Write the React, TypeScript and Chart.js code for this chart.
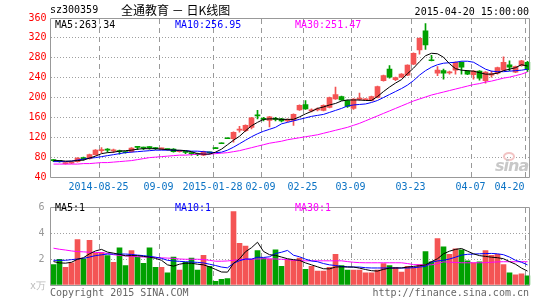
import React, { useEffect, useRef } from 'react';
import { Chart, registerables } from 'chart.js';

Chart.register(...registerables);

// ---------- data ----------
const dates: string[] = [
  '2014-08-13','2014-08-14','2014-08-15','2014-08-18','2014-08-19','2014-08-20','2014-08-21','2014-08-22',
  '2014-08-25','2014-08-26','2014-08-27','2014-08-28','2014-08-29','2014-09-01','2014-09-02','2014-09-03',
  '2014-09-04','2014-09-05','2014-09-09','2014-09-10','2014-09-11','2014-09-12','2014-09-15','2014-09-16',
  '2014-09-17','2014-09-18','2014-09-19','2015-01-28','2015-01-29','2015-01-30','2015-02-02','2015-02-03',
  '2015-02-04','2015-02-05','2015-02-06','2015-02-09','2015-02-10','2015-02-11','2015-02-12','2015-02-13',
  '2015-02-16','2015-02-17','2015-02-25','2015-02-26','2015-02-27','2015-03-02','2015-03-03','2015-03-04',
  '2015-03-05','2015-03-06','2015-03-09','2015-03-10','2015-03-11','2015-03-12','2015-03-13','2015-03-16',
  '2015-03-17','2015-03-18','2015-03-19','2015-03-20','2015-03-23','2015-03-24','2015-03-25','2015-03-26',
  '2015-03-27','2015-03-30','2015-03-31','2015-04-01','2015-04-02','2015-04-03','2015-04-07','2015-04-08',
  '2015-04-09','2015-04-10','2015-04-13','2015-04-14','2015-04-15','2015-04-16','2015-04-17','2015-04-20',
];

const tickDates: string[] = ['2014-08-25','2014-09-09','2015-01-28','2015-02-09','2015-02-25','2015-03-09','2015-03-23','2015-04-07','2015-04-20'];
const tickTexts: string[] = ['2014-08-25','09-09','2015-01-28','02-09','02-25','03-09','03-23','04-07','04-20'];

const open: number[] = [
  73.5,72,67,68,71,77.5,77,85,93,95, 92.5,92,90,91,100,98.5,99.5,98,96.5,95.5,
  96,91,90.5,88,87,84,89.5,97.2,107.2,117.2, 117,134,133,140,165,157.5,154,157.5,157,153,
  154,175,186,173,175,174,180,197,202,194, 178,196,195.5,194,200,234,257,236,241,245,
  267,296,334,274.5,249,254,249.5,255,271,253, 246,253,234,245,249,255,266,251,264,271,
];
const high: number[] = [
  75,73,69,71,79,80,86,95,99,97, 96,94,91,99,100.5,100,101,99,98,96,
  97,93,92,90,88,92,90,97.2,107.2,117.2, 131,142,145,160,174,160,162,160,158,157,
  167,185,194,177,179,185,201,221,203,195, 198,209,198,203,223,245,264,241,248,266,
  290,320,349,285,262,257,253,272,272,254, 254,254,252,253,261,282,274,263,275,273,
];
const low: number[] = [
  71,70,66,67,70,74,76,84,89,90, 89,86,88,90,95,95,96,95,95.5,94,
  90,90,87,84,83,83,87,97,107,117, 110,130,131,137,157,153,141,153,151,151,
  144,174,176,171,173,173,179,196,194,180, 176,194,195,193,199,233,239,234,240,244,
  266,287,297,273.5,244,237,247,247,247,246, 237,235,229,241,247,254,254,250,263,252,
];
const close: number[] = [
  73,71.5,68,70,78,77,85,94,95,94, 93.5,91,89,98,99.5,98,99,97,97,95,
  91,92,89.5,87,85,91,88.5,97,107,117, 130,136.5,144,159,163,156,161,156,153,156,
  166,184,177,175,177,184,200,206,195,182, 197,199,197,202,222,244,241,240,247,265,
  289,319,306,274,255,249,251.5,271,261,247, 253,239,251,248,260,271,261,262,274,256,
];

const ma5: number[] = [
  73,73,72,72,73,74,78,82,87,89, 90,92,93,94,96,97,97,97,96,95,
  94,94,93,91,87,86,86,90,96,105, 114,122,133,143,150,156,157,157,156,156,
  156,161,167,172,178,181,185,188,193,195, 195,195,194,194,202,212,221,229,236,248,
  259,272,284,289,288,281,268,258,255,254, 253,250,247,247,249,254,257,260,266,263.34,
];
const ma10: number[] = [
  71,71,71,72,74,76,78,79,81,83, 85,87,89,90,91,92,93,94,94,94,
  94,93,93,92,92,91,90,89,90,94, 100,107,114,121,127,132,136,140,147,150,
  153,156,159,162,164,166,170,174,178,183, 185,186,187,190,194,200,206,212,218,225,
  234,245,254,261,266,269,270,271,273,273, 271,264,257,253,252,252,253,254,255,256.95,
];
const ma30: number[] = [
  66,66,66,66,66,67,67,68,69,69, 70,71,72,73,75,77,79,80,81,82,
  83,84,84,85,86,86,86,87,88,89, 91,93,96,99,102,105,108,110,112,115,
  117,119,121,123,125,128,131,134,137,140, 144,148,153,158,163,168,173,178,183,188,
  193,197,201,205,208,211,214,217,220,223, 226,228,231,233,236,239,241,244,247,251.47,
];

const volume: number[] = [
  1.57,1.98,1.36,1.71,3.5,2.02,3.43,2.43,2.5,2.26, 1.74,2.86,1.5,2.64,2.14,1.67,2.86,1.36,1.36,0.93,
  2.14,1.14,1.74,2.07,1.14,2.29,1.43,0.29,0.43,0.5, 5.64,3.21,3.0,1.98,2.64,2.07,1.98,2.71,1.43,1.95,
  1.9,2.07,1.21,1.43,1.07,1.07,1.36,2.36,1.5,1.14, 1.14,1.14,0.93,0.93,1.14,1.64,1.5,1.36,1.0,1.43,
  1.36,1.57,2.57,1.79,3.57,2.93,2.36,2.79,2.71,1.86, 1.71,1.79,2.64,2.29,2.36,1.57,0.93,0.79,0.86,0.71,
];
const vma5: number[] = [
  1.8,1.7,1.68,1.75,1.98,2.1,2.4,2.62,2.74,2.53, 2.45,2.35,2.25,2.26,2.26,2.2,2.14,2.05,1.9,1.55,
  1.45,1.6,1.68,1.67,1.6,1.55,1.4,1.2,1.0,0.99, 1.66,2.01,2.56,2.87,3.29,2.58,2.33,2.28,2.15,2.02,
  1.95,1.9,1.7,1.55,1.4,1.25,1.24,1.38,1.4,1.38, 1.38,1.3,1.19,1.1,1.07,1.2,1.3,1.31,1.31,1.38,
  1.43,1.48,1.55,1.8,2.02,2.4,2.6,2.74,2.81,2.6, 2.4,2.26,2.2,2.14,2.1,2.02,1.8,1.6,1.3,1.07,
];
const vma10: number[] = [
  1.9,1.9,1.9,1.95,2.0,2.05,2.15,2.26,2.32,2.38, 2.38,2.38,2.38,2.35,2.3,2.26,2.2,2.14,2.05,1.9,
  1.85,1.82,1.79,1.77,1.74,1.7,1.6,1.5,1.38,1.32, 1.67,1.87,2.0,1.99,2.14,2.12,2.17,2.42,2.52,2.66,
  2.29,2.17,1.99,1.85,1.79,1.65,1.55,1.5,1.43,1.4, 1.38,1.38,1.33,1.31,1.31,1.31,1.31,1.31,1.31,1.31,
  1.33,1.38,1.43,1.75,1.85,1.9,2.0,2.14,2.3,2.36, 2.38,2.4,2.42,2.43,2.4,2.33,2.15,1.9,1.75,1.55,
];
const vma30: number[] = [
  2.83,2.75,2.69,2.62,2.57,2.55,2.52,2.5,2.5,2.42, 2.33,2.28,2.24,2.21,2.18,2.15,2.14,2.12,2.09,2.07,
  2.05,2.0,1.98,1.98,1.98,1.96,1.9,1.83,1.83,1.85, 1.9,1.95,1.98,1.99,2.0,2.02,2.02,2.0,1.98,1.95,
  1.9,1.88,1.86,1.86,1.86,1.86,1.86,1.86,1.86,1.8, 1.75,1.72,1.71,1.71,1.71,1.71,1.71,1.71,1.71,1.65,
  1.57,1.55,1.55,1.55,1.65,1.78,1.76,1.73,1.71,1.71, 1.71,1.71,1.72,1.75,1.78,1.79,1.79,1.79,1.79,1.79,
];

// ---------- styling ----------
const MONO = '"DejaVu Sans Mono", "Liberation Mono", monospace';
const RED = '#f45454';
const GREEN = '#00a000';
const GRID = '#a0a0a0';
const DATE_LINE = '#999999';
const FRAME = '#999999';

const tickIndexLabel: Record<number, string> = {};
const tickIndexes: number[] = [];
tickDates.forEach((d, k) => {
  const i = dates.indexOf(d);
  tickIndexLabel[i] = tickTexts[k];
  tickIndexes.push(i);
});

const candleColor = (ctx: any) => {
  const i = ctx.dataIndex;
  return close[i] >= open[i] ? RED : GREEN;
};

// dashed vertical date lines at the left edge of each labelled date's slot (from the x scale)
function drawDateLines(chart: any) {
  const ctx = chart.ctx;
  const area = chart.chartArea;
  const xs = chart.scales['x'];
  ctx.save();
  ctx.fillStyle = DATE_LINE;
  for (const i of tickIndexes) {
    const cur = xs.getPixelForValue(i);
    const prev = xs.getPixelForValue(i - 1);
    const px = Math.round((cur + prev) / 2);
    for (let y = Math.ceil(area.top) + 1; y < area.bottom; y += 9) {
      ctx.fillRect(px, y, 1, Math.min(5, area.bottom - y));
    }
  }
  ctx.restore();
}

const framePlugin = {
  id: 'frame',
  beforeDatasetsDraw(chart: any) {
    drawDateLines(chart);
  },
  afterDatasetsDraw(chart: any) {
    const { ctx, chartArea } = chart;
    const x0 = Math.floor(chartArea.left) + 0.5;
    const y0 = Math.floor(chartArea.top) + 0.5;
    const x1 = Math.floor(chartArea.right) - 0.5;
    const y1 = Math.floor(chartArea.bottom) + 0.5;
    ctx.save();
    ctx.strokeStyle = FRAME;
    ctx.lineWidth = 1;
    ctx.beginPath();
    ctx.rect(x0, y0, x1 - x0, y1 - y0);
    ctx.stroke();
    ctx.restore();
  },
};

function lineDs(data: number[], color: string) {
  return { type: 'line' as const, data, borderColor: color, borderWidth: 1, pointRadius: 0, tension: 0, fill: false, order: 0 };
}

function PriceChart() {
  const ref = useRef<HTMLCanvasElement | null>(null);
  useEffect(() => {
    if (!ref.current) return;
    const chart = new Chart(ref.current, {
      type: 'bar',
      data: {
        labels: dates,
        datasets: [
          lineDs(ma5, '#000000'),
          lineDs(ma10, '#0000ff'),
          lineDs(ma30, '#ff00ff'),
          { type: 'bar', data: open.map((o, i) => [o, close[i]]), backgroundColor: candleColor, barThickness: 5, grouped: false, minBarLength: 1, order: 1 } as any,
          { type: 'bar', data: low.map((l, i) => [l, high[i]]), backgroundColor: candleColor, barThickness: 1, grouped: false, minBarLength: 1, order: 2 } as any,
        ],
      },
      options: {
        animation: false,
        responsive: false,
        events: [],
        layout: { padding: { left: 0, right: 14.5, top: 18, bottom: 0 } },
        plugins: { legend: { display: false }, tooltip: { enabled: false } },
        scales: {
          x: {
            type: 'category',
            offset: true,
            grid: { display: false, drawTicks: false },
            border: { display: false },
            ticks: {
              autoSkip: false, maxRotation: 0, minRotation: 0, padding: 4, labelOffset: -3, align: 'inner',
              color: '#0a72c4', font: { family: MONO, size: 10 },
              callback: (_v: any, i: number) => tickIndexLabel[i] ?? '',
            },
            afterFit: (s: any) => { s.height = 18; },
          },
          y: {
            type: 'linear', min: 40, max: 360,
            grid: { color: (c: any) => (c.tick && (c.tick.value === 40 || c.tick.value === 360) ? 'rgba(0,0,0,0)' : GRID), drawTicks: false, lineWidth: 1 },
            border: { display: false, dash: [1, 2] },
            ticks: { stepSize: 40, color: '#ff0000', padding: 4, font: { family: MONO, size: 10 } },
            afterFit: (s: any) => { s.width = 50.5; },
          },
        },
      } as any,
      plugins: [framePlugin],
    });
    return () => chart.destroy();
  }, []);
  return <canvas ref={ref} width={545} height={195} style={{ position: 'absolute', left: 0, top: 0, width: 545, height: 195 }} />;
}

function VolumeChart() {
  const ref = useRef<HTMLCanvasElement | null>(null);
  useEffect(() => {
    if (!ref.current) return;
    const chart = new Chart(ref.current, {
      type: 'bar',
      data: {
        labels: dates,
        datasets: [
          lineDs(vma5, '#000000'),
          lineDs(vma10, '#0000ff'),
          lineDs(vma30, '#ff00ff'),
          { type: 'bar', data: volume, backgroundColor: candleColor, barThickness: 5, grouped: false, order: 1 } as any,
        ],
      },
      options: {
        animation: false,
        responsive: false,
        events: [],
        layout: { padding: { left: 0, right: 14.5, top: 7, bottom: 0 } },
        plugins: { legend: { display: false }, tooltip: { enabled: false } },
        scales: {
          x: {
            type: 'category', offset: true,
            grid: { display: false, drawTicks: false },
            border: { display: false },
            ticks: { display: false, autoSkip: false, maxRotation: 0 },
            afterFit: (s: any) => { s.height = 15; },
          },
          y: {
            type: 'linear', min: 0, max: 6,
            grid: { color: (c: any) => (c.tick && (c.tick.value === 0 || c.tick.value === 6) ? 'rgba(0,0,0,0)' : GRID), drawTicks: false, lineWidth: 1 },
            border: { display: false, dash: [1, 2] },
            ticks: { stepSize: 2, color: '#999999', padding: 6, font: { family: MONO, size: 10 }, callback: (v: any) => (v === 0 ? '' : String(v)) },
            afterFit: (s: any) => { s.width = 50.5; },
          },
        },
      } as any,
      plugins: [framePlugin],
    });
    return () => chart.destroy();
  }, []);
  return <canvas ref={ref} width={545} height={105} style={{ position: 'absolute', left: 0, top: 195, width: 545, height: 105 }} />;
}

function Txt(props: { x: number; y: number; color?: string; size?: number; family?: string; right?: boolean; children: any; extra?: any }) {
  const size = props.size ?? 10;
  const lh = size + 2;
  const style: any = { position: 'absolute', top: props.y - lh / 2, fontFamily: props.family ?? MONO, fontSize: size, lineHeight: `${lh}px`, color: props.color ?? '#000', whiteSpace: 'pre' };
  if (props.right) style.right = 545 - props.x; else style.left = props.x;
  return <div style={{ ...style, ...(props.extra || {}) }}>{props.children}</div>;
}

export default function App() {
  return (
    <div style={{ position: 'absolute', left: 0, top: 0, width: 545, height: 300, background: '#fff', overflow: 'hidden' }}>
      <PriceChart />
      <VolumeChart />
      <Txt x={50} y={10}>sz300359</Txt>
      <Txt x={121} y={10} size={12} family={'"Noto Sans CJK SC", sans-serif'}>全通教育 － 日K线图</Txt>
      <Txt x={529} y={12} right>2015-04-20 15:00:00</Txt>
      <Txt x={55} y={25}>MA5:263.34</Txt>
      <Txt x={175} y={25} color="#0000ff">MA10:256.95</Txt>
      <Txt x={295} y={25} color="#ff00ff">MA30:251.47</Txt>
      <Txt x={55} y={208}>MA5:1</Txt>
      <Txt x={175} y={208} color="#0000ff">MA10:1</Txt>
      <Txt x={295} y={208} color="#ff00ff">MA30:1</Txt>
      <Txt x={30} y={286} color="#bbbbbb">x万</Txt>
      <Txt x={50} y={293} color="#666666">Copyright 2015 SINA.COM</Txt>
      <Txt x={529} y={293} right color="#666666">http://finance.sina.com.cn</Txt>
      <div style={{ position: 'absolute', left: 503, top: 152, width: 12, height: 9, borderRadius: '50%', border: '2px solid #f2c4c4', boxSizing: 'border-box' }} />
      <Txt x={495} y={166} size={16} color="#c8c8c8" family={'"DejaVu Sans", sans-serif'} extra={{ fontStyle: 'italic', fontWeight: 'bold', letterSpacing: '-1px' }}>sina</Txt>
    </div>
  );
}
